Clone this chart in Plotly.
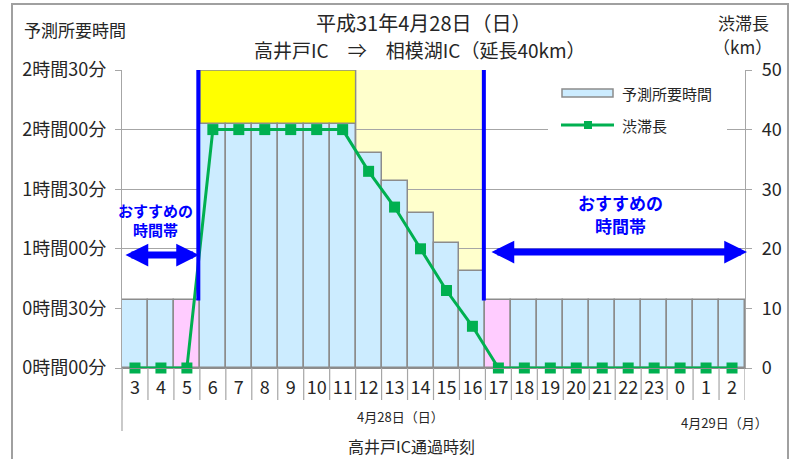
import plotly.graph_objects as go

# ---------------- data ----------------
hours = ["3", "4", "5", "6", "7", "8", "9", "10", "11", "12", "13", "14", "15", "16",
         "17", "18", "19", "20", "21", "22", "23", "0", "1", "2"]
travel_min = [34, 34, 34, 123, 123, 123, 123, 123, 123, 108, 94, 78, 63, 49,
              34, 34, 34, 34, 34, 34, 34, 34, 34, 34]
jam_km = [0, 0, 0, 40, 40, 40, 40, 40, 40, 33, 27, 20, 13, 7,
          0, 0, 0, 0, 0, 0, 0, 0, 0, 0]
edge_hours = ["5", "17"]                       # pink bars
peak_hours = ["6", "7", "8", "9", "10", "11"]  # bright yellow band
fall_hours = ["12", "13", "14", "15", "16"]    # pale yellow band
y_tick_vals = [0, 30, 60, 90, 120, 150]
y_tick_text = ["0時間00分", "0時間30分", "1時間00分", "1時間30分", "2時間00分", "2時間30分"]
y2_tick_vals = [0, 10, 20, 30, 40, 50]
y_max = 150
y2_max = 50

# ---------------- layout helpers (pixel -> paper) ----------------
W, H = 800, 459
L, R, T, B = 122, 745, 70, 368


def px(x):
    return (x - L) / (R - L)


def py(y):
    return (B - y) / (B - T)


FONT = "Noto Sans CJK JP, Noto Sans, sans-serif"
GRAY = "#8c8c8c"
TXT = "#262626"
BLUE = "#0000FF"
GREEN = "#00B050"

bar_colors = ["#FFCCFF" if h in edge_hours else "#CCECFF" for h in hours]

fig = go.Figure()
fig.add_trace(go.Bar(
    x=hours, y=travel_min, width=1,
    marker=dict(color=bar_colors, line=dict(color=GRAY, width=1.5)),
    name="予測所要時間", showlegend=False, hoverinfo="x+y",
))
fig.add_trace(go.Scatter(
    x=hours, y=jam_km, yaxis="y2", mode="lines+markers",
    line=dict(color=GREEN, width=3),
    marker=dict(symbol="square", size=11, color=GREEN),
    name="渋滞長", showlegend=False, cliponaxis=False,
))

shapes = []
i_peak0 = hours.index(peak_hours[0]) - 0.5
i_peak1 = hours.index(peak_hours[-1]) + 0.5
i_fall0 = hours.index(fall_hours[0]) - 0.5
i_fall1 = hours.index(fall_hours[-1]) + 0.5
# pale yellow band (below gridlines)
shapes.append(dict(type="rect", xref="x", yref="y", x0=i_fall0, x1=i_fall1, y0=0, y1=y_max,
                   fillcolor="#FFFFCC", line=dict(width=0), layer="below"))
# bright yellow band
shapes.append(dict(type="rect", xref="x", yref="y", x0=i_peak0, x1=i_peak1, y0=0, y1=y_max,
                   fillcolor="#FFFF00", line=dict(color=GRAY, width=1.5), layer="below"))
# blue boundary lines
for h in edge_hours:
    i = hours.index(h)
    xb = i + 0.5 if h == edge_hours[0] else i - 0.5
    shapes.append(dict(type="line", xref="x", yref="y", x0=xb - 0.06, x1=xb - 0.06,
                       y0=travel_min[i], y1=y_max, line=dict(color=BLUE, width=4), layer="above"))
# category separators under axis
for k in range(len(hours) + 1):
    shapes.append(dict(type="line", xref="x", yref="paper", x0=k - 0.5, x1=k - 0.5,
                       y0=0, y1=py(400), line=dict(color="#a6a6a6", width=1.2)))
# left axis extension
shapes.append(dict(type="line", xref="paper", yref="paper", x0=0, x1=0, y0=0, y1=py(431),
                   line=dict(color="#a6a6a6", width=1.2)))
# outer border
shapes.append(dict(type="rect", xref="paper", yref="paper", x0=px(12), x1=px(788),
                   y0=py(470), y1=py(4), line=dict(color="#a0a0a0", width=2)))
# legend box
shapes.append(dict(type="rect", xref="paper", yref="paper", x0=px(548), x1=px(727),
                   y0=py(142), y1=py(78), fillcolor="white", line=dict(width=0), layer="above"))
shapes.append(dict(type="rect", xref="paper", yref="paper", x0=px(562), x1=px(613),
                   y0=py(97), y1=py(89), fillcolor="#CCECFF", line=dict(color=GRAY, width=1.5),
                   layer="above"))
shapes.append(dict(type="line", xref="paper", yref="paper", x0=px(561), x1=px(614),
                   y0=py(125), y1=py(125), line=dict(color=GREEN, width=3), layer="above"))
shapes.append(dict(type="rect", xref="paper", yref="paper", x0=px(584), x1=px(592),
                   y0=py(129), y1=py(121), fillcolor=GREEN, line=dict(width=0), layer="above"))

ann = []


def text(x, y, s, size, color=TXT, xanchor="center", bold=False):
    ann.append(dict(xref="paper", yref="paper", x=px(x), y=py(y), text=(f"<b>{s}</b>" if bold else s),
                    showarrow=False, xanchor=xanchor, yanchor="middle",
                    font=dict(family=FONT, size=size, color=color)))


text(424, 22, "平成31年4月28日（日）", 20)
text(420, 49, "高井戸IC　⇒　相模湖IC（延長40km）", 19)
text(22, 30, "予測所要時間", 17, xanchor="left")
text(743, 22, "渋滞長", 17)
text(742, 47, "（km）", 17)
text(400, 416, "4月28日（日）", 13)
text(724, 422, "4月29日（月）", 13)
text(411, 446, "高井戸IC通過時刻", 16)
text(620, 93, "予測所要時間", 15, xanchor="left")
text(620, 125, "渋滞長", 15, xanchor="left")
text(155, 210, "おすすめの", 15, color=BLUE, bold=True)
text(155, 229, "時間帯", 15, color=BLUE, bold=True)
text(620, 202, "おすすめの", 17, color=BLUE, bold=True)
text(620, 225, "時間帯", 17, color=BLUE, bold=True)


def xidx(xpix):
    return (xpix - L) / (R - L) * len(hours) - 0.5


def ymin(ypix):
    return (B - ypix) / (B - T) * y_max


for (xa, xb, yp) in [(124, 199, 255), (490, 747, 252)]:
    ann.append(dict(x=xidx(xb), y=ymin(yp), ax=xidx(xa), ay=ymin(yp), xref="x", yref="y",
                    axref="x", ayref="y", text="", showarrow=True, arrowside="end+start",
                    arrowhead=2, startarrowhead=2, arrowsize=0.65, startarrowsize=0.65,
                    arrowwidth=7, arrowcolor=BLUE, standoff=0, startstandoff=0))

fig.update_layout(
    width=W, height=H,
    margin=dict(l=L, r=W - R, t=T, b=H - B, autoexpand=False),
    paper_bgcolor="white", plot_bgcolor="white",
    bargap=0, showlegend=False,
    font=dict(family=FONT, color=TXT),
    xaxis=dict(type="category", range=[-0.5, len(hours) - 0.5], showgrid=False,
               ticks="", showline=True, linecolor=GRAY, linewidth=1.2, automargin=False,
               tickfont=dict(size=18, color=TXT), ticklabelstandoff=3, fixedrange=True),
    yaxis=dict(range=[0, y_max], tickvals=y_tick_vals, ticktext=y_tick_text,
               ticks="outside", ticklen=6, tickcolor="#a6a6a6", showgrid=True,
               gridcolor="#a6a6a6", gridwidth=1.2, showline=True, linecolor="#a6a6a6",
               linewidth=1.2, zeroline=False, tickfont=dict(size=18, color=TXT),
               ticklabelstandoff=5, automargin=False),
    yaxis2=dict(range=[0, y2_max], tickvals=y2_tick_vals, overlaying="y", side="right",
                ticks="outside", ticklen=6, tickcolor="#a6a6a6", showgrid=False,
                showline=True, linecolor="#a6a6a6", linewidth=1.2, zeroline=False,
                tickfont=dict(size=18, color=TXT), ticklabelstandoff=6, automargin=False),
    shapes=shapes,
    annotations=ann,
)

fig.write_html("out.html", config={"displayModeBar": False},
               post_script="document.body.style.margin='0';")
